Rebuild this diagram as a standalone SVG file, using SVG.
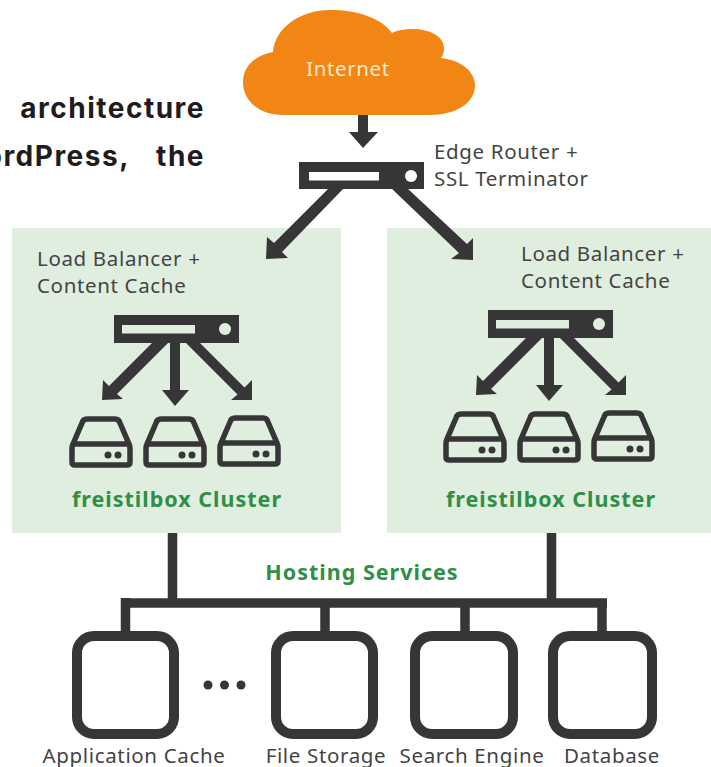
<svg xmlns="http://www.w3.org/2000/svg" width="711" height="767" viewBox="0 0 711 767">
<style>
.l{font-family:"Noto Sans","Open Sans",sans-serif;font-size:20.5px;letter-spacing:.65px;fill:#444}
.g{font-family:"Noto Sans","Open Sans",sans-serif;font-size:21.5px;letter-spacing:1px;font-weight:700;fill:#2f8f46}
.h{font-family:"Inter","Noto Sans",sans-serif;font-size:28px;letter-spacing:1.5px;font-weight:700;fill:#1f1c20}
.w{fill:none;stroke:#363636;stroke-width:9.5}
.d{fill:#363636}
.s{fill:none;stroke:#363636;stroke-width:5.5;stroke-linejoin:round}
.b{fill:none;stroke:#363636;stroke-width:10;stroke-linejoin:round}
</style>
<defs>
<g id="srv"><rect x="0" y="0" width="125" height="28" class="d"/><rect x="8" y="10" width="73" height="8.500" fill="#e0eedf"/><circle cx="111" cy="14" r="6" fill="#e0eedf"/></g>
<g id="disk"><path class="s" d="M17 3H45Q49 3 50 7L59 28Q60 30 60 33V46Q60 49 57 49H5Q2 49 2 46V33Q2 30 3 28L12 7Q13 3 17 3ZM2 28H60"/><circle cx="38" cy="39" r="3.500" class="d"/><circle cx="48" cy="39" r="3.500" class="d"/></g>
<g id="fan"><path class="d" d="M38 28L-5 71L-11 65L-12 85L9 84L3 79L54 28ZM56 28V75H48L61 91L75 75H66V28ZM72 28L123.500 79.500L117 85L138 85L138 65L130.500 72.500L86 28Z"/></g>
</defs>
<g id="intro"><text class="h" x="205" y="118" text-anchor="end">architecture</text><text class="h" x="130" y="166" text-anchor="end">ordPress,</text><text class="h" x="205" y="166" text-anchor="end">the</text></g>
<g id="panel-left"><rect x="12" y="228" width="329" height="305" fill="#e0eedf"/><text class="l"><tspan x="37" y="266">Load Balancer +</tspan><tspan x="37" y="293">Content Cache</tspan></text></g>
<g id="panel-right"><rect x="387" y="228" width="324" height="305" fill="#e0eedf"/><text class="l"><tspan x="521" y="261">Load Balancer +</tspan><tspan x="521" y="288">Content Cache</tspan></text></g>
<g id="connectors">
<path class="d" d="M358 115V132H349L363 148L378 132H368V115Z"/>
<path class="d" d="M329 188L274 243L267 237L266 259L288 258L282 252L344 188ZM391 188L459 253L451 259L473 260L473 238L467 244L407 188Z"/>
<use href="#fan" x="114" y="315"/><use href="#fan" x="488" y="310"/>
<path class="w" d="M172.500 533V603M551.500 533V603M121 603H607M125.500 598V636M325 603V636M465 603V636M602 603V636" stroke-linecap="butt"/>
</g>
<g id="internet"><path fill="#f28614" d="M283 115C258 115 243 100 243 82C243 66 256 55 273 52C275 28 300 10 330 10C358 10 381 18 392 33C398 30 405 29 412 29C431 29 444 37 444 48C444 52 443 55 441 58C460 60 475 71 475 85C475 103 456 115 430 115Z"/><text x="348" y="76" text-anchor="middle" font-family="Noto Sans,sans-serif" font-size="20.500" letter-spacing=".6" fill="#fde8d0">Internet</text></g>
<g id="edge-router"><rect x="299" y="162" width="125" height="27" class="d"/><rect x="309" y="172" width="70" height="8.500" fill="#fff"/><circle cx="411" cy="176" r="6" fill="#fff"/><text class="l"><tspan x="434" y="159">Edge Router +</tspan><tspan x="434" y="186">SSL Terminator</tspan></text></g>
<g id="cluster-left"><use href="#srv" x="114" y="315"/><use href="#disk" x="70" y="416"/><use href="#disk" x="144" y="416"/><use href="#disk" x="218" y="415"/><text class="g" x="177" y="507" text-anchor="middle">freistilbox Cluster</text></g>
<g id="cluster-right"><use href="#srv" x="488" y="310"/><use href="#disk" x="444" y="411"/><use href="#disk" x="518" y="411"/><use href="#disk" x="592" y="410"/><text class="g" x="551" y="507" text-anchor="middle">freistilbox Cluster</text></g>
<text class="g" x="362" y="580" text-anchor="middle">Hosting Services</text>
<g id="application-cache"><rect x="77" y="636" width="97" height="98" rx="17" class="b"/><text class="l" x="134" y="763" text-anchor="middle">Application Cache</text></g>
<g id="more" class="d"><circle cx="208" cy="685" r="4.500"/><circle cx="224.500" cy="685" r="4.500"/><circle cx="241" cy="685" r="4.500"/></g>
<g id="file-storage"><rect x="276" y="636" width="97" height="98" rx="17" class="b"/><text class="l" x="326" y="763" text-anchor="middle">File Storage</text></g>
<g id="search-engine"><rect x="415" y="636" width="98" height="98" rx="17" class="b"/><text class="l" x="472" y="763" text-anchor="middle">Search Engine</text></g>
<g id="database"><rect x="553" y="636" width="99" height="98" rx="17" class="b"/><text class="l" x="612" y="763" text-anchor="middle">Database</text></g>
</svg>
